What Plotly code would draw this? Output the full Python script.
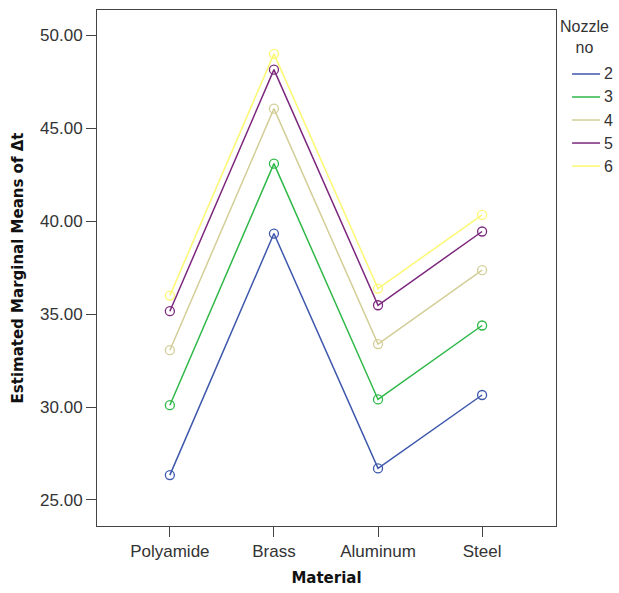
import plotly.graph_objects as go

materials = ["Polyamide", "Brass", "Aluminum", "Steel"]
nozzles = ["2", "3", "4", "5", "6"]
means = {
    "2": [26.34, 39.34, 26.70, 30.65],
    "3": [30.10, 43.10, 30.41, 34.39],
    "4": [33.06, 46.06, 33.39, 37.37],
    "5": [35.16, 48.16, 35.48, 39.45],
    "6": [36.00, 49.01, 36.38, 40.34],
}
colors = {"2": "#3E58AC", "3": "#2EB848", "4": "#D3CE97", "5": "#7C287D", "6": "#FBF873"}
y_ticks = [25, 30, 35, 40, 45, 50]
legend_title = "Nozzle<br>no"

font_family = "Liberation Sans, Arial, sans-serif"
bold_family = "DejaVu Sans, Verdana, sans-serif"

fig = go.Figure()
for n in nozzles:
    fig.add_trace(go.Scatter(
        x=list(range(len(materials))), y=means[n], mode="lines+markers",
        line=dict(color=colors[n], width=1.5),
        marker=dict(symbol="circle-open", size=9, color=colors[n], line=dict(width=1.3)),
        showlegend=False, name=n,
    ))

axis_common = dict(
    showline=True, linecolor="#444", linewidth=1, mirror=True,
    ticks="outside", tickcolor="#444", ticklen=10, tickwidth=1,
    showgrid=False, zeroline=False, automargin=False,
    tickfont=dict(family=font_family, size=17, color="#333"),
)

fig.update_xaxes(
    tickmode="array", tickvals=list(range(len(materials))), ticktext=materials,
    range=[-0.7, 3.71],
    title=dict(text="<b>Material</b>", font=dict(family=bold_family, size=15, color="#111"), standoff=12),
    **axis_common,
)
fig.update_yaxes(
    tickmode="array", tickvals=y_ticks, ticktext=[f"{v:.2f}" for v in y_ticks],
    range=[23.6, 51.37],
    title=dict(text="<b>Estimated Marginal Means of Δt</b>", font=dict(family=bold_family, size=15, color="#111"), standoff=12),
    **axis_common,
)

# manual legend (line samples + labels) placed right of the plot
shapes = []
annotations = [dict(
    text=legend_title, xref="paper", yref="paper", x=1.063, y=0.988,
    xanchor="center", yanchor="top", showarrow=False, align="center",
    font=dict(family=font_family, size=16, color="#333"),
)]
y0 = 0.876
dy = 0.0446
for i, n in enumerate(nozzles):
    yy = y0 - i * dy
    shapes.append(dict(type="line", xref="paper", yref="paper", x0=1.035, x1=1.096,
                       y0=yy, y1=yy, line=dict(color=colors[n], width=1.5)))
    annotations.append(dict(text=n, xref="paper", yref="paper", x=1.100, y=yy,
                            xanchor="left", yanchor="middle", showarrow=False,
                            font=dict(family=font_family, size=16, color="#333")))

fig.update_layout(
    width=619, height=593,
    margin=dict(l=97, r=63, t=10, b=67, autoexpand=False),
    plot_bgcolor="white", paper_bgcolor="white",
    showlegend=False, hovermode=False,
    shapes=shapes, annotations=annotations,
)

# remove the default 8px page margin so the figure fills the window exactly
fig.write_html(
    "out.html",
    config={"displayModeBar": False, "staticPlot": True},
    post_script="document.body.style.margin='0px';document.body.style.overflow='hidden';",
)
